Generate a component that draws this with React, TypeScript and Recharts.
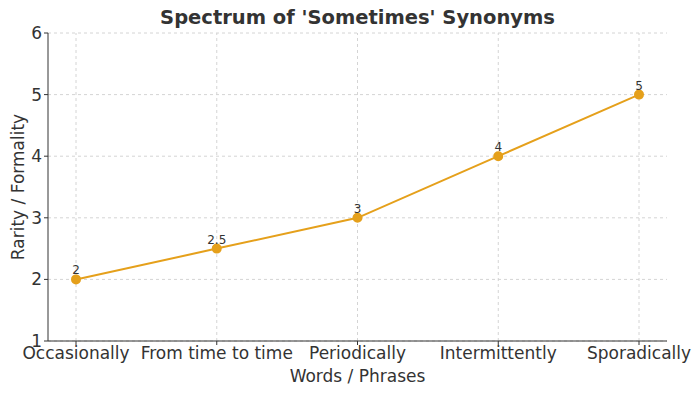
import { LineChart, Line, XAxis, YAxis, CartesianGrid, LabelList, Label, ReferenceLine } from "recharts";

const words = ["Occasionally", "From time to time", "Periodically", "Intermittently", "Sporadically"];
const rarity = [2, 2.5, 3, 4, 5];
const yTicks = [1, 2, 3, 4, 5, 6];

const data = words.map((word, i) => ({ word, rarity: rarity[i] }));

const FONT = "'DejaVu Sans', sans-serif";
const INK = "#333333";
const LINE = "#E5A01B";
const GRID = "#d4d4d4";

const YTitle = (props: any) => {
  const vb = props.viewBox || { x: 0, y: 33, width: 48, height: 308 };
  const cx = vb.x + 18;
  const cy = vb.y + vb.height / 2;
  return (
    <text
      x={cx}
      y={cy}
      transform={`rotate(-90 ${cx} ${cy})`}
      textAnchor="middle"
      dominantBaseline="central"
      fill={INK}
      fontSize={17}
      fontFamily={FONT}
    >
      Rarity / Formality
    </text>
  );
};

export default function App() {
  return (
    <div style={{ position: "relative", width: 700, height: 394, margin: -8, fontFamily: FONT }}>
      <div
        style={{
          position: "absolute",
          left: 48,
          width: 619,
          top: 6,
          textAlign: "center",
          fontSize: 19.5,
          fontWeight: "bold",
          color: INK,
        }}
      >
        Spectrum of 'Sometimes' Synonyms
      </div>
      <LineChart width={700} height={394} data={data} margin={{ top: 33, right: 33, bottom: 0, left: 0 }}>
        <CartesianGrid stroke={GRID} strokeDasharray="3 3" vertical={false} />
        {words.map((w) => (
          <ReferenceLine key={w} x={w} stroke={GRID} strokeDasharray="3 3" />
        ))}
        <XAxis
          dataKey="word"
          height={53}
          padding={{ left: 28, right: 28 }}
          interval={0}
          stroke={INK}
          tickSize={4}
          tick={{ fill: INK, fontSize: 17, fontFamily: FONT }}
        >
          <Label value="Words / Phrases" position="insideBottom" offset={12} fill={INK} fontSize={17} fontFamily={FONT} />
        </XAxis>
        <YAxis
          width={48}
          domain={[1, 6]}
          ticks={yTicks}
          stroke={INK}
          tickSize={4}
          tick={{ fill: INK, fontSize: 17, fontFamily: FONT }}
        >
          <Label content={<YTitle />} />
        </YAxis>
        <Line
          dataKey="rarity"
          stroke={LINE}
          strokeWidth={2}
          dot={{ r: 4, fill: LINE, stroke: LINE }}
          activeDot={false}
          isAnimationActive={false}
        >
          <LabelList dataKey="rarity" position="top" offset={5} fill={INK} fontSize={12} fontFamily={FONT} />
        </Line>
      </LineChart>
    </div>
  );
}
